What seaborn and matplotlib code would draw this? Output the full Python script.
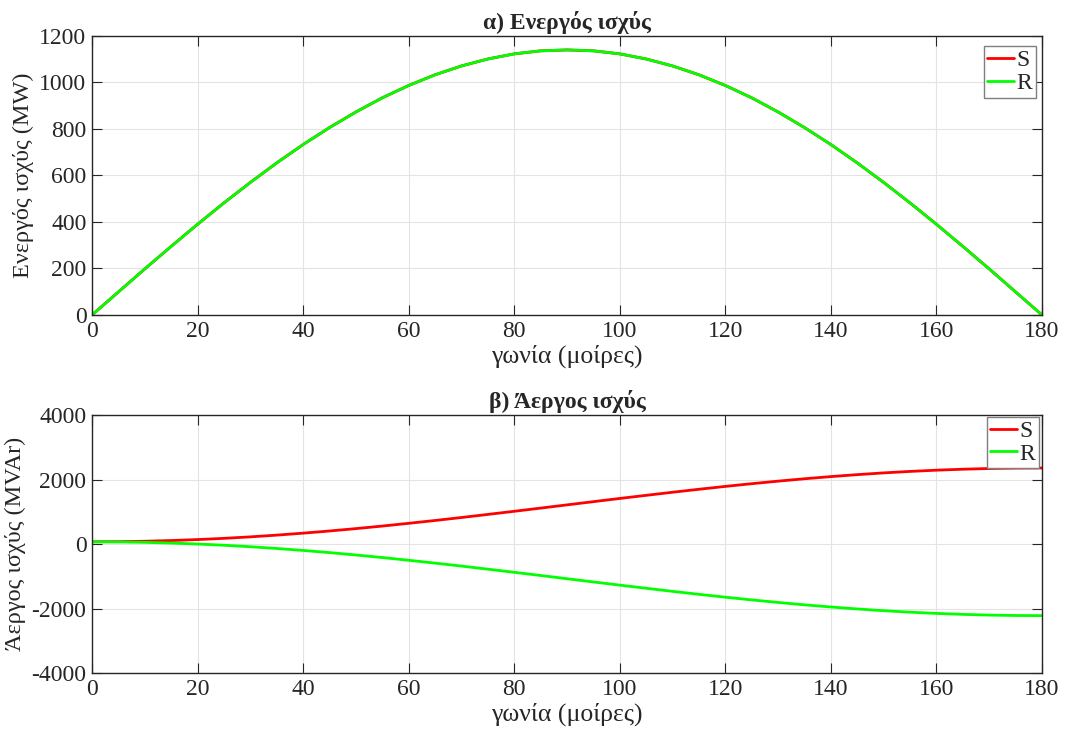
import matplotlib
matplotlib.use("Agg")
import matplotlib.pyplot as plt
import pandas as pd
import seaborn as sns

# angle (degrees)
angle = [0, 5, 10, 15, 20, 25, 30, 35, 40, 45, 50, 55, 60, 65, 70, 75, 80, 85, 90,
         95, 100, 105, 110, 115, 120, 125, 130, 135, 140, 145, 150, 155, 160, 165, 170, 175, 180]

# active power (MW), sending and receiving end overlap
p_s = [0, 99, 198, 295, 390, 482, 570, 654, 733, 806, 873, 934, 987, 1033, 1071, 1101, 1123, 1136, 1140,
       1136, 1123, 1101, 1071, 1033, 987, 934, 873, 806, 733, 654, 570, 482, 390, 295, 198, 99, 0]
p_r = [0, 99, 198, 295, 390, 482, 570, 654, 733, 806, 873, 934, 987, 1033, 1071, 1101, 1123, 1136, 1140,
       1136, 1123, 1101, 1071, 1033, 987, 934, 873, 806, 733, 654, 570, 482, 390, 295, 198, 99, 0]

# reactive power (MVAr)
q_s = [70, 74, 87, 109, 139, 177, 223, 277, 338, 405, 479, 558, 643, 731, 823, 919, 1016, 1115, 1215,
       1315, 1414, 1511, 1607, 1699, 1788, 1872, 1951, 2025, 2092, 2153, 2207, 2253, 2291, 2321, 2343, 2356, 2360]
q_r = [70, 66, 53, 31, 1, -37, -83, -137, -198, -265, -339, -418, -503, -591, -683, -779, -876, -975, -1075,
       -1175, -1274, -1371, -1467, -1559, -1648, -1732, -1811, -1885, -1952, -2013, -2067, -2113, -2151, -2181,
       -2203, -2216, -2220]

sns.set_theme(style="whitegrid")
plt.rcParams["font.family"] = ["Liberation Serif", "DejaVu Serif"]
plt.rcParams["axes.unicode_minus"] = False

palette = {"S": "#ff0000", "R": "#00ff00"}
axis_col = "#262626"


def long_frame(s_vals, r_vals):
    df_s = pd.DataFrame({"angle": angle, "value": s_vals, "end": "S"})
    df_r = pd.DataFrame({"angle": angle, "value": r_vals, "end": "R"})
    return pd.concat([df_s, df_r], ignore_index=True)


def style_axes(ax, title, ylabel, yticks, legend_anchor):
    ax.set_xlim(0, 180)
    ax.set_xticks(range(0, 181, 20))
    ax.set_ylim(yticks[0], yticks[-1])
    ax.set_yticks(yticks)
    ax.set_title(title, fontsize=17, fontweight="bold", pad=5)
    ax.set_xlabel("γωνία (μοίρες)", fontsize=18.5, labelpad=2)
    ax.set_ylabel(ylabel, fontsize=17.5, labelpad=4)
    ax.grid(True, color="#e3e3e3", linewidth=0.8)
    for sp in ax.spines.values():
        sp.set_visible(True)
        sp.set_color(axis_col)
        sp.set_linewidth(1.0)
    ax.tick_params(direction="in", length=7.5, width=0.8, colors=axis_col,
                   labelcolor=axis_col, labelsize=17, top=True, right=True,
                   bottom=True, left=True, pad=4)
    leg = ax.legend(loc="upper right", bbox_to_anchor=legend_anchor, fontsize=17,
                    frameon=True, fancybox=False, framealpha=1, edgecolor="#7f7f7f",
                    handlelength=1.15, handletextpad=0.1, borderpad=0.15,
                    labelspacing=0.05, borderaxespad=0)
    leg.get_frame().set_linewidth(1.0)


fig = plt.figure(figsize=(10.67, 7.37), dpi=100)
ax1 = fig.add_axes([0.0862, 0.5726, 0.8904, 0.3786])
ax2 = fig.add_axes([0.0862, 0.0868, 0.8904, 0.3500])

sns.lineplot(data=long_frame(p_s, p_r), x="angle", y="value", hue="end",
             hue_order=["S", "R"], palette=palette, linewidth=2, ax=ax1)
style_axes(ax1, "α) Ενεργός ισχύς", "Ενεργός ισχύς (MW)",
           list(range(0, 1201, 200)), (0.9937, 0.963))

sns.lineplot(data=long_frame(q_s, q_r), x="angle", y="value", hue="end",
             hue_order=["S", "R"], palette=palette, linewidth=2, ax=ax2)
style_axes(ax2, "β) Άεργος ισχύς", "Άεργος ισχύς (MVAr)",
           list(range(-4000, 4001, 2000)), (0.9968, 0.993))

fig.savefig("out.png", dpi=100)
